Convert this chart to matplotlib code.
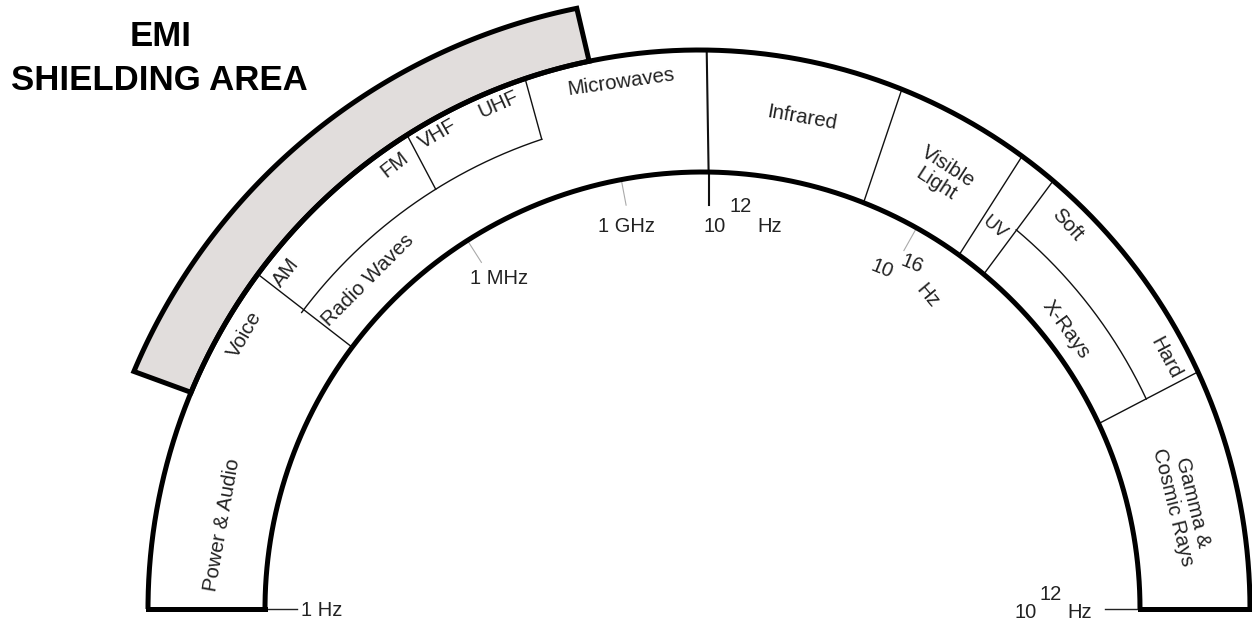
import numpy as np
import matplotlib
matplotlib.use('Agg')
import matplotlib.pyplot as plt

# ------------------------- Data -------------------------
# names of the spectrum bands, in the order they are written
band_names = ['Power & Audio', 'Voice', 'AM', 'Radio Waves', 'FM', 'VHF', 'UHF',
              'Microwaves', 'Infrared', 'Visible\nLight', 'UV', 'Soft', 'X-Rays',
              'Hard', 'Gamma &\nCosmic Rays']

# band edges, in degrees along the half ring (180 = left foot, 0 = right foot)
full_edges = [143.2, 89.2, 68.4, 54.1, 50.0, 25.1]     # inner ring -> outer ring
sub_edges = [122.0, 108.4]                             # middle ring -> outer ring
sub_rings = [(108.4, 143.2), (25.1, 50.0)]             # radio and x-ray sub bands
shield_span = (101.5, 157.2)                           # EMI shielding area

# frequency marks on the inner ring
tick_angles = [122.5, 100.7, 60.7]
tick_labels = ['1 MHz', '1 GHz', None]

# ------------------------- Layout (pixels) -------------------------
W, H = 1252, 627
CY = 609
OUTER = (699, 551, 559)
INNER = (702.5, 437.5, 437)
MIDDLE = (698, 495, 495)
SHIELD_R = 613

THICK = 3.6
THIN = 1.0
FONT = 'Liberation Sans'
FS = 14.8
FS_TICK = 14.5

label_pos = [(222, 525, 80), (245, 335, 60), (286, 273, 52), (368, 280, 45),
             (395, 165, 38), (438, 134, 30), (498, 104, 24), (621, 82, 8),
             (802, 118, -10), (942, 175, -33), (994, 228, -40), (1067, 225, -48),
             (1066, 330, -54), (1166, 358, -62), (1183, 505, -76)]
label_size = [FS] * 10 + [13.5] + [FS] * 4


def ring_pt(ring, deg):
    cx, a, b = ring
    t = np.radians(deg)
    return cx + a * np.cos(t), CY - b * np.sin(t)


def ring_arc(ring, d0, d1, n=300):
    t = np.linspace(d0, d1, n)
    return ring_pt(ring, t)


fig = plt.figure(figsize=(W / 100, H / 100), dpi=100)
ax = fig.add_axes([0, 0, 1, 1])
ax.set_xlim(0, W)
ax.set_ylim(H, 0)
ax.axis('off')

# shielding band outside the outer ring
sx0, sy0 = ring_arc(OUTER, shield_span[1], shield_span[0])
sx1, sy1 = ring_arc((699, SHIELD_R, SHIELD_R), shield_span[0], shield_span[1])
ax.fill(np.concatenate([sx0, sx1]), np.concatenate([sy0, sy1]),
        facecolor='#e1dddc', edgecolor='black', lw=THICK, joinstyle='miter', zorder=2)

# main ring
for ring in (OUTER, INNER):
    x, y = ring_arc(ring, 0, 180)
    ax.plot(x, y, color='black', lw=THICK, solid_capstyle='butt', zorder=3)
for deg in (0, 180):
    x0, y0 = ring_pt(INNER, deg)
    x1, y1 = ring_pt(OUTER, deg)
    ax.plot([x0, x1], [y0, y0], color='black', lw=THICK, solid_capstyle='projecting', zorder=3)

# band edges
for deg in full_edges:
    x0, y0 = ring_pt(INNER, deg)
    x1, y1 = ring_pt(OUTER, deg)
    lw = 1.5 if deg == 89.2 else THIN
    ax.plot([x0, x1], [y0, y1], color='#111111', lw=lw, zorder=2)
for deg in sub_edges:
    x0, y0 = ring_pt(MIDDLE, deg)
    x1, y1 = ring_pt(OUTER, deg)
    ax.plot([x0, x1], [y0, y1], color='#111111', lw=THIN, zorder=2)
for d0, d1 in sub_rings:
    x, y = ring_arc(MIDDLE, d0, d1)
    ax.plot(x, y, color='#111111', lw=THIN, zorder=2)

# frequency ticks
for deg, lab in zip(tick_angles, tick_labels):
    x0, y0 = ring_pt(INNER, deg)
    x1, y1 = ring_pt((INNER[0], INNER[1] - 26, INNER[2] - 26), deg)
    ax.plot([x0, x1], [y0, y1], color='#aaaaaa', lw=0.8, zorder=2)

x0, y0 = ring_pt(INNER, 89.2)
ax.plot([x0, x0], [y0, y0 + 33], color='#111111', lw=1.5, zorder=2)

xl, yl = ring_pt(INNER, 180)
ax.plot([xl, xl + 32], [yl, yl], color='#222222', lw=THIN, zorder=2)
xr, yr = ring_pt(INNER, 0)
ax.plot([xr - 35, xr], [yr, yr], color='#222222', lw=THIN, zorder=2)

tk = dict(fontsize=FS_TICK, family=FONT, color='#222222', ha='center', va='center')
ax.text(322, 611, '1 Hz', **tk)
ax.text(499, 278, tick_labels[0], **tk)
ax.text(627, 226, tick_labels[1], **tk)
ax.text(715, 227, '10', **tk)
ax.text(741, 206, '12', **tk)
ax.text(770, 227, 'Hz', **tk)
ax.text(882, 269, '10', rotation=-22, rotation_mode='anchor', **tk)
ax.text(912, 264, '16', rotation=-22, rotation_mode='anchor', **tk)
ax.text(928, 296, 'Hz', rotation=-50, rotation_mode='anchor', **tk)
ax.text(1026, 613, '10', **tk)
ax.text(1051, 595, '12', **tk)
ax.text(1080, 613, 'Hz', **tk)

# band names
for name, (x, y, rot), fs in zip(band_names, label_pos, label_size):
    ax.text(x, y, name, fontsize=fs, family=FONT, color='#222222', ha='center', va='center',
            rotation=rot, rotation_mode='anchor', linespacing=1.1, zorder=4)

# title
ax.text(161, 37, 'EMI', fontsize=25, family=FONT, weight='bold', ha='center', va='center')
ax.text(159, 80, 'SHIELDING AREA', fontsize=25, family=FONT, weight='bold', ha='center', va='center')

fig.savefig('out.png', dpi=100)
